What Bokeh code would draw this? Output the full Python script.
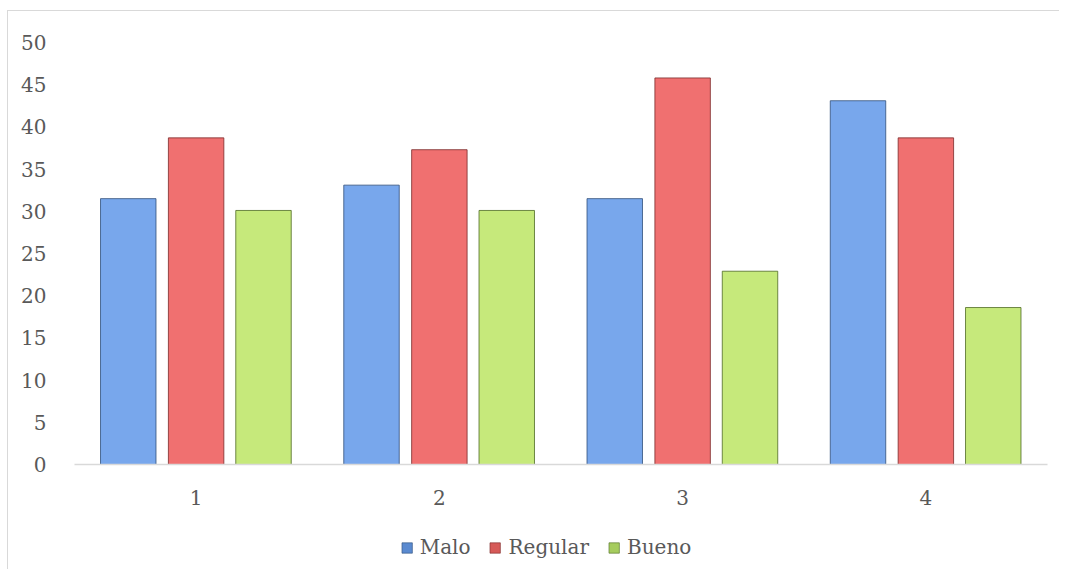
from bokeh.plotting import figure
from bokeh.layouts import column
from bokeh.models import ColumnDataSource, FactorRange, Range1d, FixedTicker, Legend, LegendItem
from bokeh.transform import dodge
from bokeh.embed import file_html
from bokeh.resources import INLINE

categories = ["1", "2", "3", "4"]
malo = [31.5, 33.1, 31.5, 43.1]
regular = [38.7, 37.3, 45.8, 38.7]
bueno = [30.1, 30.1, 22.9, 18.6]
series_names = ["Malo", "Regular", "Bueno"]
y_ticks = [0, 5, 10, 15, 20, 25, 30, 35, 40, 45, 50]

FONT = "DejaVu Serif"
TXT = "#595959"

src = ColumnDataSource(dict(cat=categories, malo=malo, regular=regular, bueno=bueno))

p = figure(x_range=FactorRange(*categories, range_padding=0), y_range=Range1d(0, 50),
           frame_width=973, frame_height=422, output_backend="svg", toolbar_location=None,
           min_border_left=66, min_border_right=12, min_border_top=31, min_border_bottom=45)
p.outline_line_color = None
p.background_fill_color = "white"
p.border_fill_color = "white"

fills = ["#78a7ec", "#f07070", "#c6e97b"]
edges = ["#2f4f7a", "#7a2a2a", "#4f6a24"]
swatch = ["#5a8ad0", "#d65a58", "#a6cc5e"]
offsets = [-0.279, 0.0, 0.277]
cols = ["malo", "regular", "bueno"]
for col, off, fc, ec in zip(cols, offsets, fills, edges):
    p.vbar(x=dodge("cat", off, range=p.x_range), top=col, width=0.228, source=src,
           fill_color=fc, line_color=ec, line_width=1, line_alpha=0.8)

p.xgrid.visible = False
p.ygrid.visible = False

p.yaxis.ticker = FixedTicker(ticks=y_ticks)
p.yaxis.axis_line_color = None
p.yaxis.major_tick_line_color = None
p.yaxis.minor_tick_line_color = None
p.yaxis.major_label_text_font = FONT
p.yaxis.major_label_text_font_size = "20px"
p.yaxis.major_label_text_color = TXT
p.yaxis.major_label_standoff = 22

p.xaxis.axis_line_color = "#d9d9d9"
p.xaxis.axis_line_width = 1.5
p.xaxis.major_tick_line_color = None
p.xaxis.minor_tick_line_color = None
p.xaxis.major_label_text_font = FONT
p.xaxis.major_label_text_font_size = "20px"
p.xaxis.major_label_text_color = TXT
p.xaxis.major_label_standoff = 19

# legend strip below the chart (its bars lie outside its visible range;
# they only supply the legend swatches)
lf = figure(width=1051, height=60, x_range=FactorRange(*categories), y_range=Range1d(1000, 1001),
            output_backend="svg", toolbar_location=None,
            min_border_left=0, min_border_right=42, min_border_top=0, min_border_bottom=0)
lf.axis.visible = False
lf.grid.visible = False
lf.outline_line_color = None
lf.border_fill_color = "white"
items = []
for name, col, fc, ec in zip(series_names, cols, swatch, edges):
    r = lf.vbar(x="cat", top=col, width=0.1, source=src, fill_color=fc, line_color=ec, line_alpha=0.6)
    items.append(LegendItem(label=name, renderers=[r]))

legend = Legend(items=items, orientation="horizontal", location="top_center")
legend.label_text_font = FONT
legend.label_text_font_size = "20px"
legend.label_text_color = TXT
legend.glyph_width = 13
legend.glyph_height = 13
legend.label_standoff = 7
legend.spacing = 18
legend.border_line_color = None
legend.background_fill_alpha = 0
legend.padding = 4
legend.margin = 26
lf.add_layout(legend, "center")

layout = column(p, lf, spacing=0)
layout.styles = {"margin-left": "7px", "margin-top": "10px",
                 "border-left": "1px solid #d9d9d9", "border-top": "1px solid #d9d9d9"}

open("out.html", "w").write(file_html(layout, INLINE))
